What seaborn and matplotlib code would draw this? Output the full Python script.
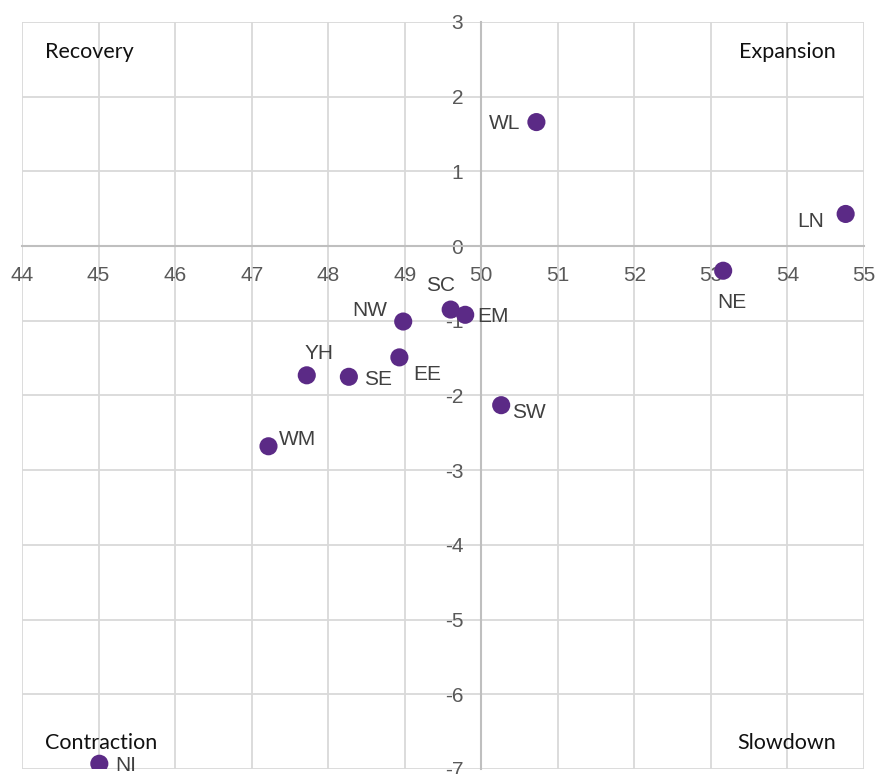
import pandas as pd
import matplotlib.pyplot as plt
import seaborn as sns

# regional values
regions = ['WL', 'LN', 'NE', 'SC', 'EM', 'NW', 'EE', 'SE', 'SW', 'YH', 'WM', 'NI']
x_vals = [50.72, 54.76, 53.16, 49.60, 49.79, 48.98, 48.93, 48.27, 50.26, 47.72, 47.22, 45.01]
y_vals = [1.66, 0.43, -0.33, -0.85, -0.92, -1.01, -1.49, -1.75, -2.13, -1.73, -2.68, -6.93]

# label offsets from the dot, in pixels (right, down)
label_dx = [-16, -22, 9, -10, 12, -16, 28, 15, 11, 12, 10, 16]
label_dy = [1, 8, 32, -24, 2, -11, 17, 3, 7, -22, -7, 2]
label_ha = ['right', 'right', 'center', 'center', 'left', 'right', 'center', 'left', 'left', 'center', 'left', 'left']

x_ticks = list(range(44, 56))
y_ticks = list(range(-7, 4))

df = pd.DataFrame({'region': regions, 'x': x_vals, 'y': y_vals})

sns.set_style('white')
plt.rcParams['font.family'] = ['Liberation Sans', 'DejaVu Sans']
plt.rcParams['axes.unicode_minus'] = False

fig = plt.figure(figsize=(8.77, 7.74), dpi=100)
ax = fig.add_axes([0.0251, 0.0065, 0.9601, 0.9651])

sns.scatterplot(data=df, x='x', y='y', color='#5b2a86', s=170, edgecolor='none',
                ax=ax, zorder=5, legend=False)

ax.set_xlim(44, 55)
ax.set_ylim(-7, 3)
ax.set_xticks(x_ticks)
ax.set_yticks(y_ticks)
ax.grid(True, color='#d9d9d9', linewidth=1.3)
ax.set_axisbelow(True)

for side in ['top', 'right']:
    ax.spines[side].set_visible(False)
ax.spines['left'].set_position(('data', 50))
ax.spines['bottom'].set_position(('data', 0))
for side in ['left', 'bottom']:
    ax.spines[side].set_color('#bfbfbf')
    ax.spines[side].set_linewidth(1.5)
    ax.spines[side].set_zorder(2)

ax.tick_params(axis='x', length=0, pad=14, labelsize=15, labelcolor='#595959')
ax.tick_params(axis='y', length=0, pad=13, labelsize=15, labelcolor='#595959')
ax.set_xlabel('')
ax.set_ylabel('')

for i, r in enumerate(regions):
    ax.annotate(r, (x_vals[i], y_vals[i]),
                xytext=(label_dx[i] * 0.72, -label_dy[i] * 0.72), textcoords='offset points',
                ha=label_ha[i], va='center', fontsize=15, color='#404040', zorder=6)

quad_font = ['Lato', 'DejaVu Sans']
ax.text(0.027, 0.96, 'Recovery', transform=ax.transAxes, ha='left', va='center',
        fontsize=15.5, color='#111111', family=quad_font)
ax.text(0.967, 0.96, 'Expansion', transform=ax.transAxes, ha='right', va='center',
        fontsize=15.5, color='#111111', family=quad_font)
ax.text(0.027, 0.035, 'Contraction', transform=ax.transAxes, ha='left', va='center',
        fontsize=15.5, color='#111111', family=quad_font)
ax.text(0.967, 0.035, 'Slowdown', transform=ax.transAxes, ha='right', va='center',
        fontsize=15.5, color='#111111', family=quad_font)

plt.savefig('out.png', dpi=100)
